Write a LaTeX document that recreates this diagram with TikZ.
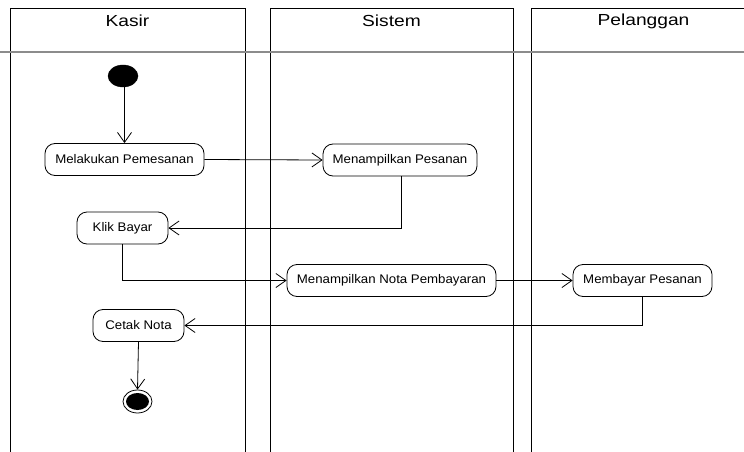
\documentclass[tikz,border=0pt]{standalone}
\usepackage{graphicx}
\usepackage{fontspec}
\setmainfont{Liberation Sans}
\usetikzlibrary{arrows.meta,shapes.geometric}
\newcommand{\hdtext}[1]{\scalebox{1.2}[1]{\fontsize{16}{18}\selectfont #1}}
\newcommand{\acttext}[1]{\scalebox{1.06}[1]{\fontsize{12.5}{14}\selectfont #1}}
\begin{document}
\begin{tikzpicture}[x=1pt,y=-1pt,
  lane/.style={line width=0.9pt,black},
  sep/.style={line width=1.6pt,gray!90},
  act/.style={draw,rounded corners=10pt,line width=0.8pt,minimum height=32pt,inner xsep=2pt,inner ysep=0pt},
  flow/.style={line width=0.8pt,-{Straight Barb[length=10pt,width=14pt,line width=0.8pt]}},
  lanehead/.style={inner sep=0pt,anchor=center}]
\useasboundingbox (0,0) rectangle (744,452);
% lanes
\draw[lane] (10,452) -- (10,8) -- (245,8) -- (245,452);
\draw[lane] (270,452) -- (270,8) -- (513,8) -- (513,452);
\draw[lane] (531,452) -- (531,8) -- (744,8);
\draw[sep] (0,52) -- (744,52);
\node[lanehead] (hk) at (127.5,21) {\hdtext{Kasir}};
\node[lanehead] (hs) at (391.5,21) {\hdtext{Sistem}};
\node[lanehead] (hp) at (643.5,21) {\hdtext{Pelanggan}};
% start
\node[draw,fill=black,ellipse,minimum width=30pt,minimum height=22pt,inner sep=0pt] (start) at (123,76) {};
% activities
\node[act,minimum width=159pt] (mp) at (124.5,159.5) {\acttext{Melakukan Pemesanan}};
\node[act,minimum width=154pt] (tp) at (400,160) {\acttext{Menampilkan Pesanan}};
\node[act,minimum width=91pt] (kb) at (122.5,228) {\acttext{Klik Bayar}};
\node[act,minimum width=209pt] (nota) at (391.5,280.5) {\acttext{Menampilkan Nota Pembayaran}};
\node[act,minimum width=139pt] (bp) at (642.5,280.5) {\acttext{Membayar Pesanan}};
\node[act,minimum width=91pt] (cn) at (138.5,325.5) {\acttext{Cetak Nota}};
% end
\node[draw,line width=0.8pt,ellipse,minimum width=29pt,minimum height=23pt,inner sep=0pt] (end) at (137.5,401.5) {};
\node[fill=black,ellipse,minimum width=23pt,minimum height=17pt,inner sep=0pt] (endin) at (end.center) {};
% flows
\draw[flow] (start.south -| mp.north) -- (mp.north);
\draw[flow] (mp.east) -- (tp.west);
\draw[flow] ([xshift=1pt]tp.south) |- (kb.east);
\draw[flow] (kb.south) |- (nota.west);
\draw[flow] (nota.east) -- (bp.west);
\draw[flow] (bp.south) |- (cn.east);
\draw[flow] (cn.south) -- (end.north);
\end{tikzpicture}
\end{document}
